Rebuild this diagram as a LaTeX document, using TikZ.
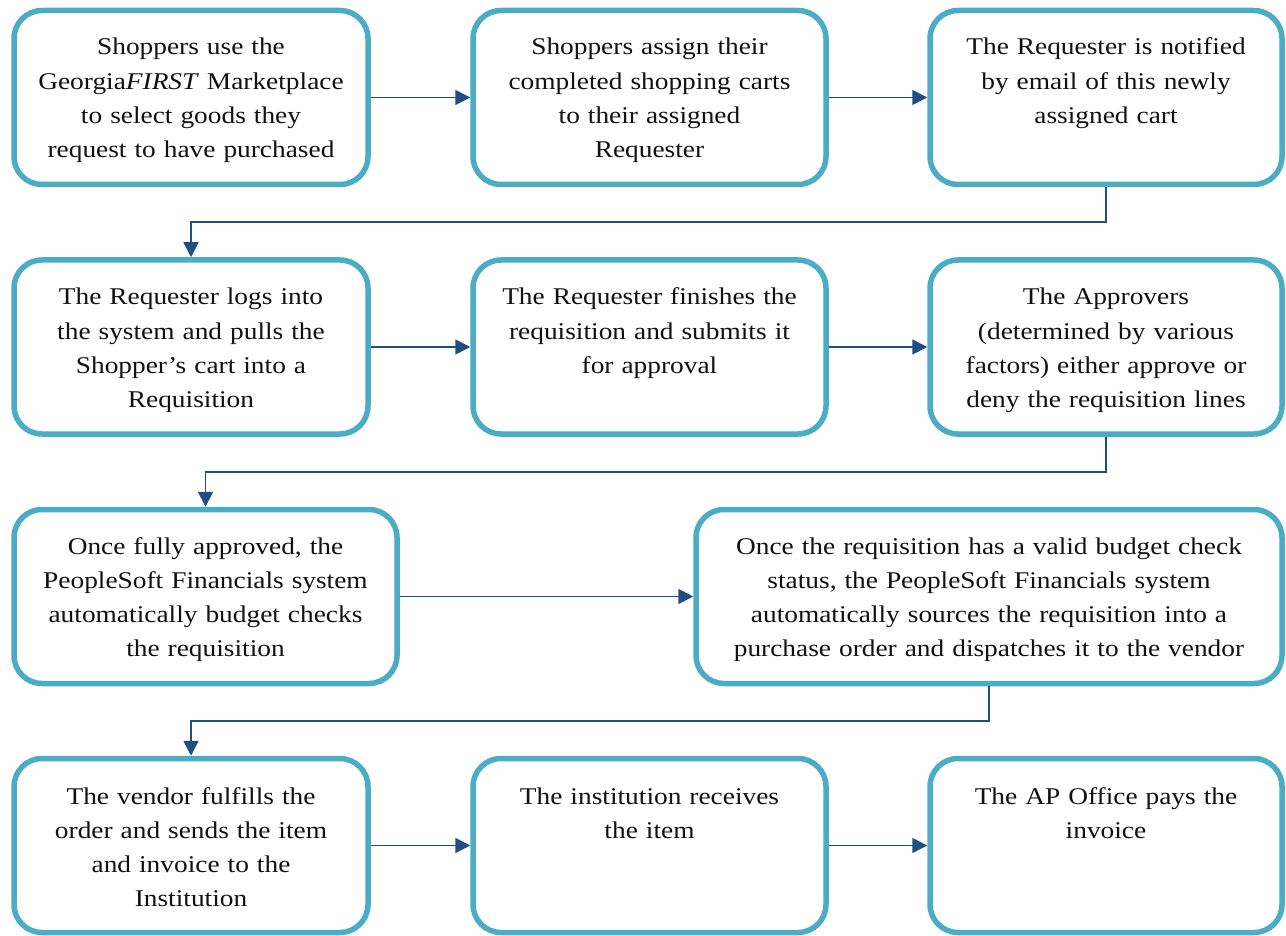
\documentclass[tikz,border=0pt]{standalone}
\usepackage{fontspec}
\setmainfont[FakeStretch=1.14]{Liberation Serif}
\usetikzlibrary{arrows.meta}
\definecolor{boxc}{HTML}{4BACC6}
\definecolor{arrc}{HTML}{1F4E85}
\definecolor{txtc}{HTML}{111111}
\tikzset{
  flowbox/.style={draw=boxc, line width=5.5pt, rounded corners=28pt, fill=white, inner sep=0pt, minimum height=174pt},
  flowtext/.style={anchor=base, align=center, inner sep=0pt, text=txtc, text width=#1, font=\fontsize{24}{34.3}\selectfont},
  flowtext/.default=350pt,
  flowarrow/.style={draw=arrc, line width=1.8pt, -{Triangle[length=15pt,width=15pt]}},
}
\begin{document}
\begin{tikzpicture}[x=1pt,y=-1pt]
\useasboundingbox (0,0) rectangle (1286,936);
% boxes
\node[flowbox, minimum width=354pt] (b1) at (191,97.5) {};
\node[flowbox, minimum width=353pt] (b2) at (649.5,97.5) {};
\node[flowbox, minimum width=352pt] (b3) at (1106,97.5) {};
\node[flowbox, minimum width=354pt] (b4) at (191,347) {};
\node[flowbox, minimum width=353pt] (b5) at (649.5,347) {};
\node[flowbox, minimum width=352pt] (b6) at (1106,347) {};
\node[flowbox, minimum width=383pt] (b7) at (205.5,596.5) {};
\node[flowbox, minimum width=586pt] (b8) at (989,596.5) {};
\node[flowbox, minimum width=354pt] (b9) at (191,845.5) {};
\node[flowbox, minimum width=353pt] (b10) at (649.5,845.5) {};
\node[flowbox, minimum width=352pt] (b11) at (1106,845.5) {};
% texts
\node[flowtext] (t1) at (191,55) {Shoppers use the\\ Georgia\textit{FIRST} Marketplace\\ to select goods they\\ request to have purchased};
\node[flowtext] (t2) at (649.5,55) {Shoppers assign their\\ completed shopping carts\\ to their assigned\\ Requester};
\node[flowtext] (t3) at (1106,55) {The Requester is notified\\ by email of this newly\\ assigned cart};
\node[flowtext] (t4) at (191,305) {The Requester logs into\\ the system and pulls the\\ Shopper’s cart into a\\ Requisition};
\node[flowtext] (t5) at (649.5,305) {The Requester finishes the\\ requisition and submits it\\ for approval};
\node[flowtext] (t6) at (1106,305) {The Approvers\\ (determined by various\\ factors) either approve or\\ deny the requisition lines};
\node[flowtext=375pt] (t7) at (205.5,554) {Once fully approved, the\\ PeopleSoft Financials system\\ automatically budget checks\\ the requisition};
\node[flowtext=575pt] (t8) at (989,554) {Once the requisition has a valid budget check\\ status, the PeopleSoft Financials system\\ automatically sources the requisition into a\\ purchase order and dispatches it to the vendor};
\node[flowtext] (t9) at (191,804) {The vendor fulfills the\\ order and sends the item\\ and invoice to the\\ Institution};
\node[flowtext] (t10) at (649.5,804) {The institution receives\\ the item};
\node[flowtext] (t11) at (1106,804) {The AP Office pays the\\ invoice};
% connectors
\coordinate (k1) at (0,222);
\coordinate (k2) at (0,472);
\coordinate (k3) at (0,721);
\draw[flowarrow] (b1) -- (b2);
\draw[flowarrow] (b2) -- (b3);
\draw[flowarrow] (b3.south) -- (b3.south |- k1) -| (b4.north);
\draw[flowarrow] (b4) -- (b5);
\draw[flowarrow] (b5) -- (b6);
\draw[flowarrow] (b6.south) -- (b6.south |- k2) -| (b7.north);
\draw[flowarrow] (b7) -- (b8);
\draw[flowarrow] (b8.south) -- (b8.south |- k3) -| (b9.north);
\draw[flowarrow] (b9) -- (b10);
\draw[flowarrow] (b10) -- (b11);
\end{tikzpicture}
\end{document}
